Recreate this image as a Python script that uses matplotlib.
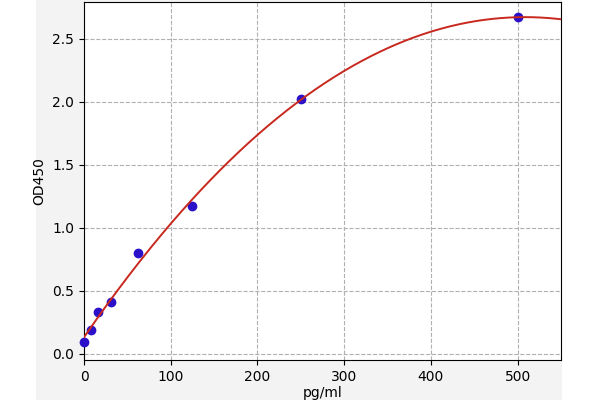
import numpy as np
import matplotlib
matplotlib.use("Agg")
import matplotlib.pyplot as plt

# standard curve points
conc = [0, 7.8, 15.6, 31.25, 62.5, 125, 250, 500]
od450 = [0.09, 0.19, 0.33, 0.41, 0.80, 1.17, 2.02, 2.67]

# fitted curve (2nd order polynomial)
coef = np.polyfit(conc, od450, 2)
xs = np.linspace(0, 550, 300)
ys = np.polyval(coef, xs)

fig = plt.figure(figsize=(6, 4), dpi=100)
fig.patch.set_facecolor("white")

# light gray panel behind the plot area
bg = fig.add_axes([36 / 600, 0, (562 - 36) / 600, 1], zorder=0)
bg.set_facecolor("#f3f3f3")
bg.set_xticks([])
bg.set_yticks([])
for s in bg.spines.values():
    s.set_visible(False)

ax = fig.add_axes([84 / 600, 40 / 400, (561 - 84) / 600, (398 - 40) / 400], zorder=2)
ax.set_facecolor("white")
ax.scatter(conc, od450, s=36, color="#2a10c8", zorder=3, clip_on=False)
ax.plot(xs, ys, color="#c8281e", lw=1.4, zorder=4)

ax.set_xlim(0, 550)
ax.set_ylim(-0.05, 2.79)
ax.set_xticks([0, 100, 200, 300, 400, 500])
ax.set_yticks([0.0, 0.5, 1.0, 1.5, 2.0, 2.5])
ax.grid(True, linestyle="--", color="#b0b0b0", lw=0.8)
ax.set_axisbelow(True)
ax.tick_params(labelsize=10)
ax.set_xlabel("pg/ml", fontsize=10, labelpad=2)
ax.set_ylabel("OD450", fontsize=10)

fig.savefig("out.png", dpi=100, facecolor=fig.get_facecolor())
